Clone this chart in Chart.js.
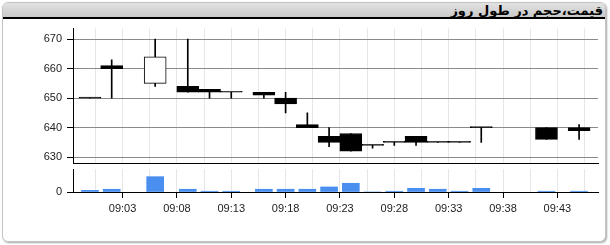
<!DOCTYPE html>
<html>
<head>
<meta charset="utf-8">
<script src="https://cdn.jsdelivr.net/npm/chart.js@4.4.1/dist/chart.umd.min.js"></script>
<style>
  html, body { margin: 0; padding: 0; background: #fff; width: 610px; height: 245px; overflow: hidden; }
  #panel { position: absolute; left: 2px; top: 2px; width: 602px; height: 238px; border: 1px solid #c4c4c4;
           border-radius: 6px; box-shadow: 1px 1px 2px rgba(0,0,0,0.35); background: #fff; overflow: hidden; }
  #hdr { height: 13.5px; background: linear-gradient(#e2e2e2, #c9c9c9); border-bottom: 2px solid #000;
         direction: rtl; text-align: right; padding-right: 2px; font: bold 13px "DejaVu Sans", sans-serif;
         line-height: 15px; color: #000; white-space: nowrap; }
  .cv { position: absolute; left: 0; }
</style>
</head>
<body>
<div id="panel"><div id="hdr">قیمت،حجم در طول روز</div></div>
<canvas id="price" class="cv" width="610" height="180" style="top:0px"></canvas>
<canvas id="vol" class="cv" width="610" height="95" style="top:150px"></canvas>
<script>
// ---- data ----
const times   = ['09:00','09:02','09:06','09:09','09:11','09:13','09:16','09:18','09:20','09:22','09:24','09:26','09:28','09:30','09:32','09:34','09:36','09:42','09:45'];
const opens   = [650, 661, 655, 654, 653, 652, 652, 650, 641, 637, 638, 634, 635, 637, 635, 635, 640, 640, 640];
const highs   = [650, 663, 670, 670, 653, 652, 652, 652, 645, 640, 638, 634, 635, 637, 635, 635, 640, 640, 641];
const lows    = [650, 650, 654, 652, 650, 650, 650, 645, 640, 633.5, 632, 633, 634, 634, 635, 635, 635, 636, 636];
const closes  = [650, 660, 664, 652, 652, 652, 651, 648, 640, 635, 632, 634, 635, 635, 635, 635, 640, 636, 639];
const volumes = [11, 18, 100, 18, 5, 5, 18, 18, 18, 33, 57, 0, 5, 24, 18, 5, 24, 5, 5];
const priceTicks = [630, 640, 650, 660, 670];
const volumeTicks = [0];
const timeTickLabels = ['09:03','09:08','09:13','09:18','09:23','09:28','09:33','09:38','09:43'];

// ---- helpers ----
const toMin = s => { const p = s.split(':').map(Number); return p[0] * 60 + p[1] - 540; };
const fmt = m => { const t = Math.round(m) + 540; return String(Math.floor(t / 60)).padStart(2, '0') + ':' + String(t % 60).padStart(2, '0'); };
const labeledMins = timeTickLabels.map(toMin);
const gridMins = [];
labeledMins.forEach(m => { gridMins.push(m - 2.5, m); });
gridMins.push(labeledMins[labeledMins.length - 1] + 2.5);
const isLabeled = v => labeledMins.some(m => Math.abs(m - v) < 1e-6);

const X_MIN = -1.56, X_MAX = 46.74;
const AXIS_W = 73, RIGHT_PAD = 12;
const tickFont = { family: '"Liberation Sans", Arial, sans-serif', size: 11 };
const TXT = '#222';

function xScale(showLabels) {
  return {
    type: 'linear', min: X_MIN, max: X_MAX, offset: false,
    afterBuildTicks: s => { s.ticks = gridMins.map(v => ({ value: v })); },
    ticks: {
      display: showLabels, autoSkip: false, maxRotation: 0, minRotation: 0, padding: 4,
      font: tickFont, color: TXT,
      callback: v => isLabeled(v) ? fmt(v) : ''
    },
    grid: {
      offset: false, color: '#e6e6e6', lineWidth: 1,
      drawTicks: showLabels, tickLength: 6,
      tickColor: ctx => (ctx.tick && isLabeled(ctx.tick.value)) ? '#000' : 'rgba(0,0,0,0)'
    },
    border: { display: true, color: '#000', width: 1 }
  };
}
function yScale(min, max, tickVals) {
  return {
    type: 'linear', min: min, max: max, beginAtZero: false,
    afterBuildTicks: s => { s.ticks = tickVals.map(v => ({ value: v })); },
    afterFit: s => { s.width = AXIS_W; },
    ticks: { font: tickFont, color: TXT, padding: 5, callback: v => String(v) },
    grid: { color: '#8a8a8a', lineWidth: 1, tickLength: 6, tickColor: '#000' },
    border: { display: true, color: '#000', width: 1 }
  };
}

const xs = times.map(toMin);

new Chart(document.getElementById('price'), {
  type: 'bar',
  data: {
    datasets: [
      { // bodies
        data: xs.map((x, i) => ({ x: x, y: [opens[i], closes[i]] })),
        backgroundColor: xs.map((x, i) => closes[i] > opens[i] ? '#ffffff' : '#000000'),
        borderColor: '#000', borderWidth: 1, borderSkipped: false,
        barThickness: 22, minBarLength: 1, grouped: false
      },
      { // wicks
        data: xs.map((x, i) => ({ x: x, y: [lows[i], highs[i]] })),
        backgroundColor: '#000', borderWidth: 0, borderSkipped: false,
        barThickness: 1, grouped: false
      }
    ]
  },
  options: {
    responsive: false, animation: false, events: [],
    layout: { padding: { top: 28.5, bottom: 17, left: 0, right: RIGHT_PAD } },
    plugins: { legend: { display: false }, tooltip: { enabled: false }, title: { display: false } },
    scales: {
      x: xScale(false),
      y: yScale(628, 673.6, priceTicks)
    }
  }
});

const volX = xScale(true);
volX.afterFit = s => { s.height = 53; };
new Chart(document.getElementById('vol'), {
  type: 'bar',
  data: {
    datasets: [{
      data: xs.map((x, i) => ({ x: x, y: volumes[i] })),
      backgroundColor: '#4a8ff0', borderWidth: 0, barThickness: 17
    }]
  },
  options: {
    responsive: false, animation: false, events: [],
    layout: { padding: { top: 19, bottom: 0, left: 0, right: RIGHT_PAD } },
    plugins: { legend: { display: false }, tooltip: { enabled: false } },
    scales: {
      x: volX,
      y: yScale(0, 150, volumeTicks)
    }
  }
});
</script>
</body>
</html>
